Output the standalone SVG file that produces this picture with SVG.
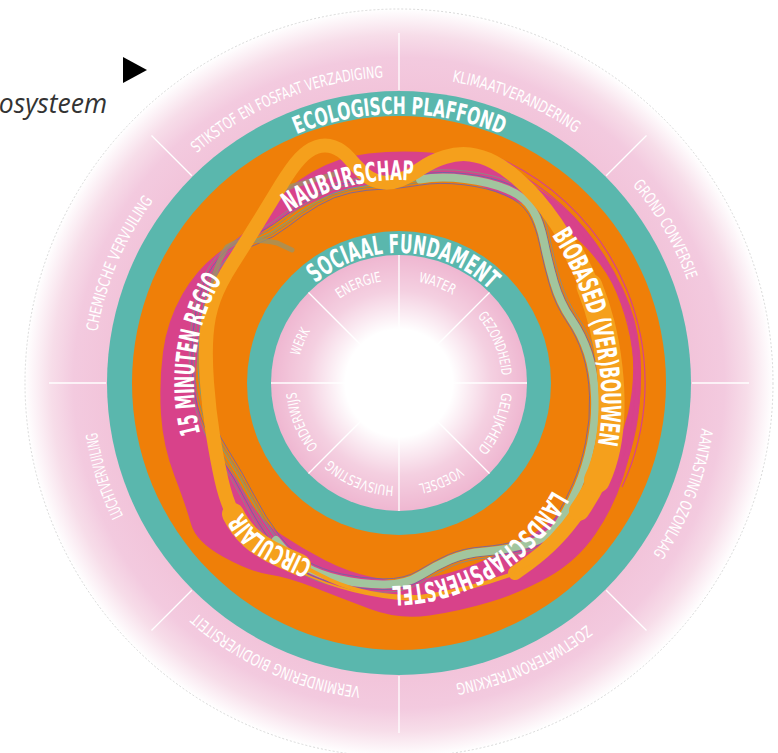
<svg xmlns="http://www.w3.org/2000/svg" xmlns:xlink="http://www.w3.org/1999/xlink" width="778" height="753" viewBox="0 0 778 753">
<style>
.big{fill:#fff;font-family:"DejaVu Sans Condensed","DejaVu Sans",sans-serif;font-weight:bold;font-stretch:condensed}
.out{fill:#fff;font-family:"DejaVu Sans Condensed","DejaVu Sans",sans-serif;font-stretch:condensed;font-size:16px}
.in{fill:#fff;font-family:"DejaVu Sans Condensed","DejaVu Sans",sans-serif;font-stretch:condensed;font-size:14px}
.div{stroke:#fff;stroke-width:1.3;fill:none}
.bund{fill:none;stroke-width:0.9}
</style>
<defs>
<radialGradient id="gOut" gradientUnits="userSpaceOnUse" cx="399" cy="383" r="374">
<stop offset="0" stop-color="#f2c4da"/>
<stop offset="0.78" stop-color="#f2c4da"/>
<stop offset="0.87" stop-color="#f3cadf"/>
<stop offset="0.93" stop-color="#f7dde9"/>
<stop offset="1" stop-color="#ffffff"/>
</radialGradient>
<radialGradient id="gIn" gradientUnits="userSpaceOnUse" cx="399" cy="383" r="128">
<stop offset="0" stop-color="#fff" stop-opacity="1"/>
<stop offset="0.42" stop-color="#fff" stop-opacity="1"/>
<stop offset="0.72" stop-color="#fff" stop-opacity="0.35"/>
<stop offset="1" stop-color="#fff" stop-opacity="0"/>
</radialGradient>
<path id="po" d="M399,77 A306,306 0 1 1 399,689 A306,306 0 1 1 399,77"/>
<path id="pi" d="M399,280 A103,103 0 1 1 399,486 A103,103 0 1 1 399,280"/>
<path id="pe" d="M399,652 A269,269 0 1 1 399,114 A269,269 0 1 1 399,652"/>
<path id="ps" d="M399,513 A130,130 0 1 1 399,253 A130,130 0 1 1 399,513"/>
<path id="pn" d="M399,586 A203,203 0 1 1 399,180 A203,203 0 1 1 399,586"/>
<path id="pm" d="M399,178 A205,205 0 1 1 399,588 A205,205 0 1 1 399,178"/>
<path id="pl" d="M390,214 A186,186 0 1 1 390,586 A186,186 0 1 1 390,214"/>
<path id="pc" d="M312,571 L281,556.5 Q262,548 251,538 Q240,528 233,514 Q226,500 221.5,480"/>
<path id="pb" d="M556,223.5 Q565,237 573.5,252.5 Q582,268 589.5,286.5 Q597,305 602,325 Q607,345 609.5,367.5 Q612,390 611.5,410 Q611,430 607.5,447.5 Q604,465 597,480 Q590,495 579,511"/>
<path id="gloop" d="M383,183.5 Q400,183 420,179.5 Q440,176 465,179 Q490,182 507.5,189.5 Q525,197 532.5,209.5 Q540,222 544,242 Q548,262 554,282.5 Q560,303 571,319 Q582,335 588,353.5 Q594,372 595,396 Q596,420 591,444 Q586,468 578,486.5 Q570,505 560,521.5 Q550,538 527.5,544 Q505,550 485,551.5 Q465,553 450,559.5 Q435,566 420,575.5 Q405,585 382.5,584.5 Q360,584 340,579.5 Q320,575 305,566.5 Q290,558 276,540 Q262,522 250,498.5 Q238,475 223,451.5 Q208,428 202,404 Q196,380 197,351 Q198,322 204,299.5 Q210,277 223,261.5 Q236,246 253,240 Q270,234 285,222 Q300,210 316,200.5 Q332,191 349,187.5 Q366,184 383,183.5 Z"/>
</defs>

<g id="boundaries-ring">
<circle cx="399" cy="383" r="374" fill="url(#gOut)" stroke="#c8c8c8" stroke-width="0.7" stroke-dasharray="2 2"/>
<g class="div">
<line x1="399" y1="90" x2="399" y2="33"/>
<line x1="606.2" y1="175.8" x2="646.5" y2="135.5"/>
<line x1="692" y1="383" x2="749" y2="383"/>
<line x1="606.2" y1="590.2" x2="646.5" y2="630.5"/>
<line x1="399" y1="676" x2="399" y2="733"/>
<line x1="191.8" y1="590.2" x2="151.5" y2="630.5"/>
<line x1="106" y1="383" x2="49" y2="383"/>
<line x1="191.8" y1="175.8" x2="151.5" y2="135.5"/>
</g>
<text class="out"><textPath href="#po" startOffset="1803.6" text-anchor="middle" textLength="205" lengthAdjust="spacingAndGlyphs">STIKSTOF EN FOSFAAT VERZADIGING</textPath></text>
<text class="out"><textPath href="#po" startOffset="120.7" text-anchor="middle" textLength="135" lengthAdjust="spacingAndGlyphs">KLIMAATVERANDERING</textPath></text>
<text class="out"><textPath href="#po" startOffset="320.4" text-anchor="middle" textLength="110" lengthAdjust="spacingAndGlyphs">GROND CONVERSIE</textPath></text>
<text class="out"><textPath href="#po" startOffset="593.9" text-anchor="middle" textLength="136" lengthAdjust="spacingAndGlyphs">AANTASTING OZONLAAG</textPath></text>
<text class="out"><textPath href="#po" startOffset="831.6" text-anchor="middle" textLength="145" lengthAdjust="spacingAndGlyphs">ZOETWATERONTREKKING</textPath></text>
<text class="out"><textPath href="#po" startOffset="1090.6" text-anchor="middle" textLength="182" lengthAdjust="spacingAndGlyphs">VERMINDERING BIODIVERSITEIT</textPath></text>
<text class="out"><textPath href="#po" startOffset="1348" text-anchor="middle" textLength="88" lengthAdjust="spacingAndGlyphs">LUCHTVERVUILING</textPath></text>
<text class="out"><textPath href="#po" startOffset="1564.8" text-anchor="middle" textLength="144" lengthAdjust="spacingAndGlyphs">CHEMISCHE VERVUILING</textPath></text>
</g>

<g id="ecological-ceiling">
<circle cx="399" cy="383" r="292" fill="#5ab7ad"/>
<circle cx="399" cy="383" r="267" fill="#ef7f08"/>
</g>

<g id="connectors">
<path id="magenta-band" fill="#d8428a" fill-rule="evenodd" d="M368.5,153.5 Q399,150 429.5,152.5 Q460,155 489.5,165 Q519,175 545,193 Q571,211 590.5,236 Q610,261 623.5,290 Q637,319 640,351 Q643,383 638,414.5 Q633,446 623.5,476.5 Q614,507 595.5,534 Q577,561 548.5,577 Q520,593 490,602 Q460,611 429.5,615.5 Q399,620 370,609 Q341,598 314,587.5 Q287,577 269,574.5 Q251,572 223.5,557 Q196,542 191,524 Q186,506 174.5,476 Q163,446 161,414.5 Q159,383 163,352 Q167,321 182.5,294 Q198,267 223,249.5 Q248,232 267,209.5 Q286,187 312,172 Q338,157 368.5,153.5 Z M373,184.5 Q399,181 426.5,178.5 Q454,176 480.5,186 Q507,196 533.5,209 Q560,222 582,243.5 Q604,265 617,293 Q630,321 632.5,352 Q635,383 628,413 Q621,443 603,467 Q585,491 564.5,509.5 Q544,528 521,541.5 Q498,555 474,564.5 Q450,574 424.5,578.5 Q399,583 373.5,577.5 Q348,572 325.5,560.5 Q303,549 282,535 Q261,521 248.5,499 Q236,477 219.5,456.5 Q203,436 198.5,409.5 Q194,383 197.5,356.5 Q201,330 211,305 Q221,280 237,258.5 Q253,237 275.5,222.5 Q298,208 322.5,198 Q347,188 373,184.5 Z"/>
<g fill="none" stroke="#d8428a" stroke-width="1.2">
<path d="M479.7,161.2 A236,236 0 0 1 612.9,482.7"/>
<path d="M481.4,156.5 A241,241 0 0 1 617.4,484.8"/>
<path d="M483.1,151.8 A246,246 0 0 1 622,487"/>
</g>
<g id="bundles">
<use href="#gloop" class="bund" stroke="#6f8f88" transform="translate(399 383) scale(0.985) translate(-399 -383)"/>
<use href="#gloop" class="bund" stroke="#7a8f80" transform="translate(399 383) scale(1.012) translate(-399 -383)"/>
<use href="#gloop" class="bund" stroke="#6d68a6" transform="translate(399 383) scale(1.025) translate(-399 -383)"/>
<use href="#gloop" class="bund" stroke="#5aa69f" transform="translate(399 383) scale(0.995) translate(-399 -383)"/>
<use href="#gloop" class="bund" stroke="#8a8a86" transform="translate(399 383) scale(1.038) translate(-399 -383)"/>
<use href="#gloop" class="bund" stroke="#7064a8" transform="translate(399 383) scale(0.972) translate(-399 -383)"/>
</g>
<path id="green-band" fill="none" stroke="#a2c59e" stroke-width="8" stroke-linecap="round" d="M420,179.5 Q440,176 465,179 Q490,182 507.5,189.5 Q525,197 532.5,209.5 Q540,222 544,242 Q548,262 554,282.5 Q560,303 571,319 Q582,335 588,353.5 Q594,372 595,396 Q596,420 591,444 Q586,468 578,486.5 Q570,505 560,521.5 Q550,538 527.5,544 Q505,550 485,551.5 Q465,553 450,559.5 Q435,566 420,575.5 Q405,585 382.5,584.5 Q360,584 340,579.5 Q320,575 305,566.5 Q290,558 276,540"/>
<g fill="none" stroke="#9c9466" stroke-width="5" opacity="0.75" stroke-linecap="round">
<path d="M210,330 Q208,275 227,247 Q245,236 277,243 L292,250"/>
<path d="M250,241 Q262,200 292,186 L335,174"/>
</g>
<g id="yellow-band" fill="none" stroke="#f5a01c" stroke-linecap="round">
<path stroke-width="14" d="M300,565 L281,556.5 Q262,548 251,538 Q240,528 233,514 Q226,500 221.5,480 Q217,460 213,435 Q209,410 207,382.5 Q205,355 206.5,335 Q208,315 214,299 Q220,283 231.5,265 Q243,247 256.5,225 Q270,203 281,185 Q292,167 300,158.5 Q308,150 316.5,147 Q325,144 333.5,147 Q342,150 348.5,157.5 Q355,165 362.5,172.5 Q370,180 380,182 Q390,184 400,180 Q410,176 421,168.5 Q432,161 445,157 Q458,153 470,154.5 Q482,156 493.5,162 Q505,168 516,177.5 Q527,187 537,198.5 Q547,210 556,223.5 Q565,237 573.5,252.5 Q582,268 589.5,286.5 Q597,305 602,325 Q607,345 609.5,367.5 Q612,390 611.5,410 Q611,430 607.5,447.5 Q604,465 597,480 Q590,495 579,511 Q568,527 555.5,540 Q543,553 529,563 L515,573"/>
<path stroke-width="20" d="M573.5,252.5 Q582,268 589.5,286.5 Q597,305 602,325 Q607,345 609.5,367.5 Q612,390 611.5,410 Q611,430 607.5,447.5 Q604,465 597,480 Q590,495 579,511"/>
<path stroke-width="26" d="M589.5,286.5 Q597,305 602,325 Q607,345 609.5,367.5 Q612,390 611.5,410 Q611,430 607.5,447.5 Q604,465 597,480"/>
<path stroke-width="22" d="M233,514 Q240,528 251,538 Q262,548 281,556.5 L300,565"/>
<path stroke-width="4" d="M515,573 Q470,590 420,597 Q370,598 330,580 L300,565"/>
<path stroke-width="1.5" d="M540,560 Q480,592 410,600 Q350,596 300,572"/>
</g>
</g>

<g id="strategies">
<text class="big" font-size="27"><textPath href="#pn" startOffset="586.4" text-anchor="middle" textLength="131" lengthAdjust="spacingAndGlyphs">NAUBURSCHAP</textPath></text>
<text class="big" font-size="27" dominant-baseline="central"><textPath href="#pb" startOffset="8" textLength="226" lengthAdjust="spacingAndGlyphs">BIOBASED (VER)BOUWEN</textPath></text>
<text class="big" font-size="27"><textPath href="#pl" startOffset="484.3" text-anchor="middle" textLength="196" lengthAdjust="spacingAndGlyphs">LANDSCHAPSHERSTEL</textPath></text>
<text class="big" font-size="26" dominant-baseline="central"><textPath href="#pc" startOffset="3" textLength="93" lengthAdjust="spacingAndGlyphs">CIRCULAIR</textPath></text>
<text class="big" font-size="27"><textPath href="#pm" startOffset="994.7" text-anchor="middle" textLength="160" lengthAdjust="spacingAndGlyphs">15 MINUTEN REGIO</textPath></text>
</g>

<g id="social-foundation">
<circle cx="399" cy="383" r="152" fill="#5ab7ad"/>
<circle cx="399" cy="383" r="128" fill="#efb7d1"/>
<g class="div">
<line x1="399" y1="255" x2="399" y2="343"/>
<line x1="489.5" y1="292.5" x2="427.3" y2="354.7"/>
<line x1="527" y1="383" x2="439" y2="383"/>
<line x1="489.5" y1="473.5" x2="427.3" y2="411.3"/>
<line x1="399" y1="511" x2="399" y2="423"/>
<line x1="308.5" y1="473.5" x2="370.7" y2="411.3"/>
<line x1="271" y1="383" x2="359" y2="383"/>
<line x1="308.5" y1="292.5" x2="370.7" y2="354.7"/>
</g>
<circle cx="399" cy="383" r="128" fill="url(#gIn)"/>
<text class="in"><textPath href="#pi" startOffset="606" text-anchor="middle" textLength="46" lengthAdjust="spacingAndGlyphs">ENERGIE</textPath></text>
<text class="in"><textPath href="#pi" startOffset="37.8" text-anchor="middle" textLength="37" lengthAdjust="spacingAndGlyphs">WATER</textPath></text>
<text class="in"><textPath href="#pi" startOffset="121.5" text-anchor="middle" textLength="65" lengthAdjust="spacingAndGlyphs">GEZONDHEID</textPath></text>
<text class="in"><textPath href="#pi" startOffset="202.6" text-anchor="middle" textLength="63" lengthAdjust="spacingAndGlyphs">GELIJKHEID</textPath></text>
<text class="in"><textPath href="#pi" startOffset="281.3" text-anchor="middle" textLength="44" lengthAdjust="spacingAndGlyphs">VOEDSEL</textPath></text>
<text class="in"><textPath href="#pi" startOffset="363.5" text-anchor="middle" textLength="70" lengthAdjust="spacingAndGlyphs">HUISVESTING</textPath></text>
<text class="in"><textPath href="#pi" startOffset="445.6" text-anchor="middle" textLength="60" lengthAdjust="spacingAndGlyphs">ONDERWIJS</textPath></text>
<text class="in"><textPath href="#pi" startOffset="525.6" text-anchor="middle" textLength="27" lengthAdjust="spacingAndGlyphs">WERK</textPath></text>
<text class="big" font-size="26"><textPath href="#ps" startOffset="413" text-anchor="middle" textLength="191" lengthAdjust="spacingAndGlyphs">SOCIAAL FUNDAMENT</textPath></text>
</g>

<g id="ceiling-label">
<text class="big" font-size="24"><textPath href="#pe" startOffset="845.1" text-anchor="middle" textLength="211" lengthAdjust="spacingAndGlyphs">ECOLOGISCH PLAFFOND</textPath></text>
</g>

<g id="legend">
<polygon points="123,57 147,70 123,83" fill="#000"/>
<text x="107" y="113" text-anchor="end" font-family="'Open Sans','DejaVu Sans',sans-serif" font-style="italic" font-size="26.5" fill="#333">osysteem</text>
</g>
</svg>
